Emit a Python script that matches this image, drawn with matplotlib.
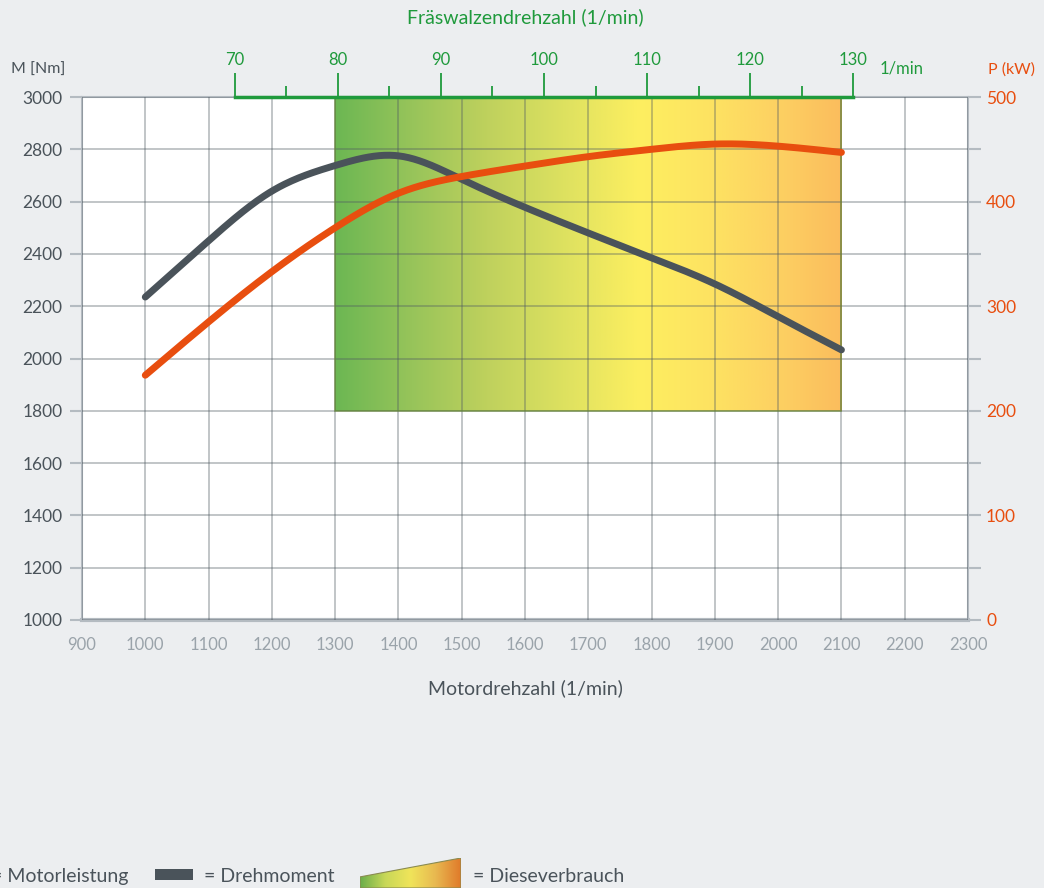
import matplotlib.pyplot as plt
import numpy as np
from matplotlib.colors import LinearSegmentedColormap
from matplotlib.patches import Rectangle, Polygon

plt.rcParams['font.family'] = ['Lato', 'DejaVu Sans']

# --- data ---
rpm = [1000, 1100, 1200, 1300, 1400, 1500, 1600, 1700, 1800, 1900, 2000, 2100]
torque = [2235, 2450, 2640, 2738, 2775, 2685, 2578, 2480, 2385, 2285, 2160, 2033]
power = [234, 285, 333, 375, 408, 424, 434, 443, 450, 455, 453, 447]

drum_ticks = [70, 80, 90, 100, 110, 120, 130]
drum_minor = [75, 85, 95, 105, 115, 125]
drum_ratio = 16.3  # motor rpm per drum rpm

zone_rpm = (1300, 2100)
zone_torque = (1800, 3000)

# colours
bg = '#eceef0'
gridc = '#b4bbc1'
dark = '#4a535a'
orange = '#e84e0f'
green = '#1f9a3c'


def spline(x, y, xs):
    # natural cubic spline through the read points
    x = np.asarray(x, float)
    y = np.asarray(y, float)
    n = len(x)
    h = np.diff(x)
    A = np.zeros((n, n))
    r = np.zeros(n)
    A[0, 0] = A[-1, -1] = 1
    for i in range(1, n - 1):
        A[i, i - 1] = h[i - 1]
        A[i, i] = 2 * (h[i - 1] + h[i])
        A[i, i + 1] = h[i]
        r[i] = 6 * ((y[i + 1] - y[i]) / h[i] - (y[i] - y[i - 1]) / h[i - 1])
    m = np.linalg.solve(A, r)
    idx = np.clip(np.searchsorted(x, xs) - 1, 0, n - 2)
    t0 = xs - x[idx]
    t1 = x[idx + 1] - xs
    hi = h[idx]
    return (m[idx] * t1**3 / (6 * hi) + m[idx + 1] * t0**3 / (6 * hi)
            + (y[idx] / hi - m[idx] * hi / 6) * t1 + (y[idx + 1] / hi - m[idx + 1] * hi / 6) * t0)


fig = plt.figure(figsize=(10.44, 8.88), dpi=100, facecolor=bg)
ax = fig.add_axes([82/1044, 1-620/888, 886/1044, 523/888])
ax.set_facecolor('white')

xs = np.linspace(rpm[0], rpm[-1], 400)

# diesel consumption gradient zone
cmap = LinearSegmentedColormap.from_list('diesel', [
    (0.0, '#6cb753'), (0.15, '#97c45a'), (0.3, '#bfd15d'), (0.45, '#dde160'),
    (0.6, '#fdef60'), (0.75, '#fee262'), (0.88, '#fdd062'), (1.0, '#fbbd5d')])
grad = np.linspace(0, 1, 256).reshape(1, -1)
ax.imshow(grad, cmap=cmap, aspect='auto', extent=[zone_rpm[0], zone_rpm[1], zone_torque[0], zone_torque[1]],
          zorder=1, interpolation='bicubic')
ax.add_patch(Rectangle((zone_rpm[0], zone_torque[0]), zone_rpm[1]-zone_rpm[0], zone_torque[1]-zone_torque[0],
                       fill=False, edgecolor='#6a8a3a', lw=1.2, alpha=0.7, zorder=3))

ax.set_xlim(900, 2300)
ax.set_ylim(1000, 3000)
ax.set_xticks(range(900, 2301, 100))
ax.set_yticks(range(1000, 3001, 200))
ax.grid(True, color='#4f5a62', alpha=0.45, lw=1.1, zorder=2)
ax.set_axisbelow(False)
for gl in ax.get_xgridlines() + ax.get_ygridlines():
    gl.set_zorder(2)

ax.tick_params(axis='x', length=0, pad=12, labelsize=12, labelcolor='#9aa3aa')
ax.tick_params(axis='y', length=9, width=1.5, color=gridc, pad=5, labelsize=12.5, labelcolor=dark)
for s in ['left', 'right', 'top']:
    ax.spines[s].set_color(gridc)
    ax.spines[s].set_linewidth(1.5)
ax.spines['bottom'].set_color(gridc)
ax.spines['bottom'].set_linewidth(3)

ax.plot(xs, spline(rpm, torque, xs), color=dark, lw=5, solid_capstyle='round', zorder=5)

axr = ax.twinx()
axr.set_ylim(0, 500)
axr.set_yticks(range(0, 501, 50))
axr.set_yticklabels([str(v) if v % 100 == 0 else '' for v in range(0, 501, 50)])
axr.tick_params(axis='y', length=9, width=1.5, color=gridc, pad=4, labelsize=12.5, labelcolor=orange)
for s in axr.spines.values():
    s.set_visible(False)
axr.plot(xs, spline(rpm, power, xs), color=orange, lw=5, solid_capstyle='round', zorder=5)

# top drum speed axis
top = ax.secondary_xaxis('top', functions=(lambda x: x / drum_ratio, lambda f: f * drum_ratio))
top.set_xticks(drum_ticks)
top.set_xticks(drum_minor, minor=True)
top.tick_params(axis='x', which='major', length=17, width=1.3, color=green, labelcolor=green, labelsize=12, pad=4)
top.tick_params(axis='x', which='minor', length=8, width=1.3, color=green)
top.spines['top'].set_color(green)
top.spines['top'].set_linewidth(2.5)
top.spines['top'].set_bounds(drum_ticks[0], drum_ticks[-1])
top.set_zorder(10)

fig.text(525/1044, 1-17/888, 'Fräswalzendrehzahl (1/min)', color=green, fontsize=14, ha='center', va='center')
fig.text(880/1044, 1-68/888, '1/min', color=green, fontsize=12, ha='left', va='center')
fig.text(38/1044, 1-70/888, 'M [Nm]', color=dark, fontsize=11.5, ha='center', va='center')
fig.text(1012/1044, 1-70/888, 'P (kW)', color=orange, fontsize=11.5, ha='center', va='center')
fig.text(525/1044, 1-688/888, 'Motordrehzahl (1/min)', color=dark, fontsize=14, ha='center', va='center')

# legend at bottom
fig.text(128/1044, 1-876/888, '= Motorleistung', color=dark, fontsize=14, ha='right', va='center')
fig.patches.append(Rectangle((155/1044, 1-880/888), 38/1044, 11/888, transform=fig.transFigure,
                             facecolor=dark, edgecolor='none'))
fig.text(204/1044, 1-876/888, '= Drehmoment', color=dark, fontsize=14, ha='left', va='center')
lax = fig.add_axes([360/1044, 0, 101/1044, 30/888])
lax.set_axis_off()
lcmap = LinearSegmentedColormap.from_list('leg', ['#6aae4a', '#c8d858', '#f0e45a', '#e8b850', '#e07a2a'])
im = lax.imshow(grad, cmap=lcmap, aspect='auto', extent=[0, 1, 0, 1])
lax.set_xlim(0, 1)
lax.set_ylim(0, 1)
poly = Polygon([(0, 0), (0, 0.37), (1, 1), (1, 0)], closed=True, transform=lax.transData,
               facecolor='none', edgecolor='#8a8a50', lw=0.8)
lax.add_patch(poly)
im.set_clip_path(poly)
fig.text(473/1044, 1-876/888, '= Dieseverbrauch', color=dark, fontsize=14, ha='left', va='center')

fig.savefig('out.png', dpi=100, facecolor=bg)
